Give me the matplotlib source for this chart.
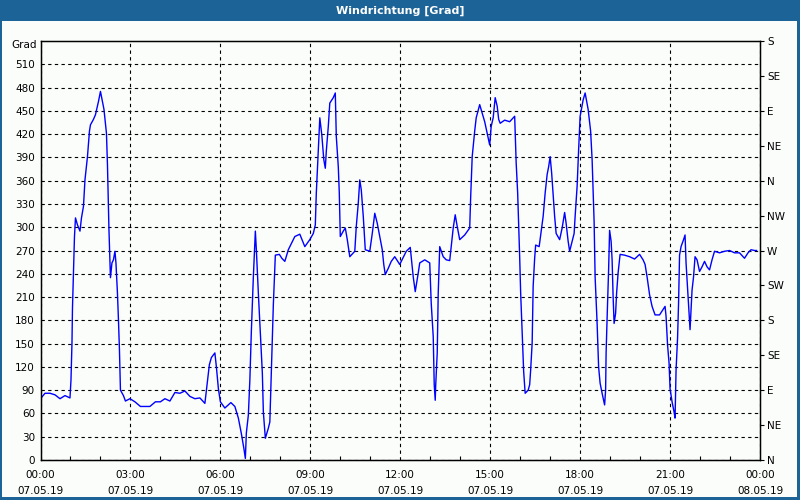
import matplotlib
matplotlib.use("Agg")
import matplotlib.pyplot as plt
from matplotlib.patches import Rectangle
from matplotlib.ticker import FixedLocator, MultipleLocator

# minutes since 07.05.19 00:00
minutes = [0, 9, 19, 29, 39, 49, 59, 61, 63, 64, 66, 68, 70, 74, 79, 82, 86, 89, 94, 98,
           100, 106, 110, 116, 120, 124, 127, 132, 134, 137, 139, 140, 143, 146, 149, 151, 154, 156, 158, 160,
           166, 170, 179, 189, 200, 219, 230, 240, 249, 259, 269, 279, 289, 299, 309, 319, 329, 332, 338, 342,
           349, 352, 356, 360, 369, 381, 389, 396, 402, 407, 410, 412, 416, 419, 422, 426, 430, 432, 436, 440,
           444, 446, 450, 456, 459, 462, 466, 470, 478, 483, 489, 496, 509, 519, 529, 539, 546, 550, 552, 556,
           559, 563, 567, 570, 572, 576, 579, 586, 590, 592, 596, 598, 600, 606, 610, 614, 619, 629, 632, 636,
           639, 642, 646, 650, 659, 664, 669, 674, 679, 684, 687, 690, 696, 702, 709, 719, 732, 740, 746, 750,
           756, 759, 769, 779, 782, 786, 788, 790, 791, 794, 796, 799, 806, 812, 819, 822, 826, 830, 834, 839,
           849, 859, 861, 864, 869, 872, 879, 884, 889, 894, 899, 902, 906, 910, 914, 917, 920, 929, 939, 949,
           950, 952, 955, 957, 959, 961, 964, 967, 970, 976, 979, 981, 984, 986, 989, 991, 998, 1002, 1006, 1010,
           1014, 1017, 1020, 1023, 1026, 1029, 1032, 1039, 1044, 1049, 1052, 1056, 1059, 1064, 1068, 1070, 1074, 1077, 1080, 1086,
           1090, 1096, 1101, 1104, 1106, 1108, 1110, 1114, 1117, 1120, 1124, 1129, 1131, 1132, 1134, 1137, 1139, 1142, 1144, 1146,
           1148, 1151, 1153, 1156, 1160, 1169, 1179, 1189, 1199, 1206, 1210, 1214, 1219, 1224, 1230, 1239, 1246, 1250, 1252, 1255,
           1258, 1260, 1264, 1268, 1270, 1272, 1275, 1277, 1279, 1282, 1287, 1290, 1292, 1294, 1298, 1300, 1302, 1304, 1307, 1310,
           1314, 1319, 1324, 1329, 1334, 1339, 1344, 1349, 1359, 1369, 1379, 1389, 1399, 1409, 1416, 1422, 1429, 1433]
direction = [79, 86, 86, 84, 79, 83, 80, 103, 151, 196, 243, 288, 312, 303, 295, 312, 327, 361, 391, 424,
             432, 439, 445, 462, 475, 462, 452, 421, 381, 297, 254, 235, 254, 258, 269, 254, 215, 181, 142, 90,
             83, 76, 79, 75, 69, 69, 75, 75, 79, 76, 87, 86, 89, 82, 79, 80, 73, 90, 123, 132,
             138, 120, 92, 75, 67, 74, 69, 54, 34, 15, 2, 35, 58, 103, 166, 236, 295, 271, 215, 163,
             112, 62, 28, 41, 49, 114, 200, 264, 265, 260, 256, 271, 288, 291, 275, 284, 292, 303, 344, 400,
             441, 419, 387, 376, 398, 430, 460, 467, 473, 417, 378, 344, 288, 295, 299, 284, 262, 269, 301, 331,
             361, 348, 314, 271, 269, 292, 318, 305, 288, 271, 252, 239, 247, 256, 262, 252, 269, 274, 236, 217,
             241, 254, 258, 254, 202, 159, 97, 77, 97, 138, 215, 275, 262, 258, 257, 275, 299, 316, 301, 284,
             290, 299, 340, 391, 424, 441, 458, 447, 436, 421, 406, 430, 441, 467, 456, 439, 434, 438, 436, 443,
             424, 383, 344, 303, 262, 215, 163, 114, 86, 90, 97, 116, 151, 224, 260, 277, 275, 295, 314, 344,
             368, 378, 391, 370, 342, 314, 292, 284, 299, 319, 305, 282, 269, 282, 292, 314, 353, 400, 443, 464,
             473, 452, 424, 387, 346, 307, 236, 176, 120, 99, 86, 71, 90, 138, 183, 245, 296, 282, 258, 211,
             176, 189, 215, 241, 265, 264, 262, 259, 265, 258, 252, 236, 213, 198, 187, 187, 194, 198, 185, 148,
             125, 92, 75, 62, 54, 116, 157, 202, 264, 275, 284, 290, 254, 232, 189, 168, 194, 219, 236, 262,
             258, 243, 249, 256, 249, 245, 258, 269, 267, 269, 270, 267, 267, 260, 267, 271, 270, 270]

left_ticks = list(range(0, 511, 30))
right_ticks = list(range(0, 541, 45))
right_labels = ["N", "NE", "E", "SE", "S", "SW", "W", "NW", "N", "NE", "E", "SE", "S"]
x_ticks = list(range(0, 1441, 180))
x_labels = ["00:00\n07.05.19", "03:00\n07.05.19", "06:00\n07.05.19", "09:00\n07.05.19",
            "12:00\n07.05.19", "15:00\n07.05.19", "18:00\n07.05.19", "21:00\n07.05.19",
            "00:00\n08.05.19"]
title = "Windrichtung [Grad]"
unit = "Grad"

plt.rcParams['font.family'] = ['DejaVu Sans']
bg = '#fbfdfb'
blue = '#1c6398'
fig = plt.figure(figsize=(8, 5), dpi=100, facecolor=bg)

# title bar and frame
fig.patches.append(Rectangle((0, 1 - 21 / 500), 1, 21 / 500, transform=fig.transFigure,
                             facecolor=blue, edgecolor='none', zorder=0))
fig.patches.append(Rectangle((0, 0), 2 / 800, 1, transform=fig.transFigure,
                             facecolor=blue, edgecolor='none', zorder=0))
fig.patches.append(Rectangle((1 - 3 / 800, 0), 3 / 800, 1, transform=fig.transFigure,
                             facecolor=blue, edgecolor='none', zorder=0))
fig.patches.append(Rectangle((0, 0), 1, 3 / 500, transform=fig.transFigure,
                             facecolor=blue, edgecolor='none', zorder=0))
fig.text(0.5, 1 - 10.5 / 500, title, color='white', ha='center', va='center',
         fontsize=8, fontweight='semibold')

L, R, T, B = 40.5, 760, 41, 460
ax = fig.add_axes([L / 800, 1 - B / 500, (R - L) / 800, (B - T) / 500])
ax.set_facecolor(bg)
ax.plot(minutes, direction, color='#0000ff', lw=1.0)
ax.set_xlim(0, 1440)
ax.set_ylim(0, 540)

ax.yaxis.set_major_locator(FixedLocator(left_ticks))
ax.set_yticklabels([str(v) for v in left_ticks])
ax.xaxis.set_major_locator(FixedLocator(x_ticks))
ax.set_xticklabels(x_labels)
ax.xaxis.set_minor_locator(MultipleLocator(60))
ax.tick_params(axis='y', which='major', length=0, pad=4, labelsize=7.5, colors='black')
ax.tick_params(axis='x', which='major', length=0, pad=7, labelsize=7.5)
ax.tick_params(axis='x', which='minor', direction='in', length=3, width=0.8)
for lab in ax.get_xticklabels():
    lab.set_linespacing(1.8)

ax.grid(True, which='major', color='black', linestyle=(0, (3, 3)), linewidth=0.8)
for s in ax.spines.values():
    s.set_linewidth(1.0)
    s.set_color('black')

ax2 = ax.twinx()
ax2.set_ylim(0, 540)
ax2.yaxis.set_major_locator(FixedLocator(right_ticks))
ax2.set_yticklabels(right_labels)
ax2.tick_params(axis='y', direction='out', length=3, width=0.8, pad=2, labelsize=7.5)

ax.text(-4 / (R - L), 535, unit, transform=ax.get_yaxis_transform(), ha='right', va='center',
        fontsize=7.5)

fig.savefig("out.png", dpi=100, facecolor=bg)
